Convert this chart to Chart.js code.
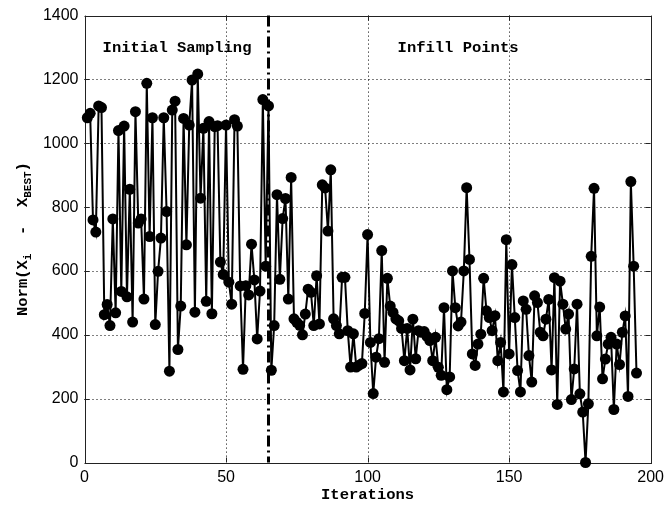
<!DOCTYPE html>
<html>
<head>
<meta charset="utf-8">
<script src="https://cdn.jsdelivr.net/npm/chart.js@4/dist/chart.umd.min.js"></script>
<style>
  body { margin: 0; background: #fff; }
  canvas { display: block; }
</style>
</head>
<body>
<canvas id="myChart" width="669" height="508"></canvas>
<script>
// iteration numbers (x) and the norm values
const iterations = [
  1, 2, 3, 4, 5, 6, 7, 8, 9, 10, 11, 12, 13, 14, 15, 16, 17, 18, 19, 20,
  21, 22, 23, 24, 25, 26, 27, 28, 29, 30, 31, 32, 33, 34, 35, 36, 37, 38, 39, 40,
  41, 42, 43, 44, 45, 46, 47, 48, 49, 50, 51, 52, 53, 54, 55, 56, 57, 58, 59, 60,
  61, 62, 63, 64, 65, 66, 67, 68, 69, 70, 71, 72, 73, 74, 75, 76, 77, 78, 79, 80,
  81, 82, 83, 84, 85, 86, 87, 88, 89, 90, 91, 92, 93, 94, 95, 96, 97, 98, 99, 100,
  101, 102, 103, 104, 105, 106, 107, 108, 109, 110, 111, 112, 113, 114, 115, 116, 117, 118, 119, 120,
  121, 122, 123, 124, 125, 126, 127, 128, 129, 130, 131, 132, 133, 134, 135, 136, 137, 138, 139, 140,
  141, 142, 143, 144, 145, 146, 147, 148, 149, 150, 151, 152, 153, 154, 155, 156, 157, 158, 159, 160,
  161, 162, 163, 164, 165, 166, 167, 168, 169, 170, 171, 172, 173, 174, 175, 176, 177, 178, 179, 180,
  181, 182, 183, 184, 185, 186, 187, 188, 189, 190, 191, 192, 193, 194, 195
];

const normValues = [
  // initial sampling (1-65)
  1080, 1094, 760, 722, 1117, 1112, 463, 495, 429, 763,
  469, 1040, 536, 1054, 519, 856, 440, 1099, 750, 763,
  512, 1188, 708, 1080, 432, 599, 703, 1080, 786, 286,
  1104, 1132, 354, 490, 1078, 682, 1057, 1198, 471, 1217,
  828, 1047, 505, 1068, 466, 1052, 1055, 628, 589, 1057,
  565, 496, 1074, 1054, 553, 292, 554, 525, 684, 572,
  387, 537, 1137, 615, 1117,
  // infill points (66-195)
  289, 429, 839, 574, 764, 827, 512, 893, 450, 439,
  430, 400, 465, 543, 533, 429, 585, 434, 870, 860,
  725, 917, 450, 429, 403, 580, 580, 413, 299, 403,
  299, 305, 310, 467,
  714, 376, 216, 330, 388, 664, 314, 577, 490, 470,
  450, 444, 420, 319, 420, 290, 449, 325, 413, 408,
  410, 395, 382, 319, 392, 298, 273, 485, 228, 268,
  600, 485, 428, 440, 600, 861,
  636, 340, 304, 371, 402, 577, 475, 454, 413, 460,
  319, 376, 221, 698, 340, 620, 454, 288, 221, 506,
  480, 335, 252, 522, 501, 408, 397, 449,
  511, 290, 579, 182, 568, 496, 418, 465, 197, 293,
  496, 215, 158, 0, 184, 646, 859, 397, 487, 262,
  324, 371, 392, 166, 371, 307, 408, 459, 207, 880,
  615, 280
];

const xTicks = [0, 50, 100, 150, 200];
const yTicks = [0, 200, 400, 600, 800, 1000, 1200, 1400];

// end of the initial sampling phase
const splitIteration = 65;
const sectionLabels = ['Initial Sampling', 'Infill Points'];
const sectionLabelX = [6.4, 110.6];
const sectionLabelY = 1297;

const monoBold = 'bold 15.5px "Liberation Mono", "DejaVu Sans Mono", monospace';

const frame = {
  id: 'frame',
  beforeDatasetsDraw(chart) {
    const { ctx, chartArea: a, scales: { x, y } } = chart;
    ctx.save();
    ctx.strokeStyle = '#000';
    ctx.lineWidth = 1;
    ctx.setLineDash([1, 3]);
    ctx.beginPath();
    xTicks.forEach(v => {
      if (v <= 0 || v >= 200) return;
      const px = Math.round(x.getPixelForValue(v)) + 0.5;
      ctx.moveTo(px, a.top);
      ctx.lineTo(px, a.bottom);
    });
    yTicks.forEach(v => {
      if (v <= 0 || v >= 1400) return;
      const py = Math.round(y.getPixelForValue(v)) + 0.5;
      ctx.moveTo(a.left, py);
      ctx.lineTo(a.right, py);
    });
    ctx.stroke();

    // inward tick marks, matlab style
    ctx.setLineDash([]);
    ctx.strokeStyle = '#222';
    ctx.beginPath();
    xTicks.forEach(v => {
      const px = Math.round(x.getPixelForValue(v)) + 0.5;
      ctx.moveTo(px, a.bottom); ctx.lineTo(px, a.bottom - 5);
      ctx.moveTo(px, a.top); ctx.lineTo(px, a.top + 5);
    });
    yTicks.forEach(v => {
      const py = Math.round(y.getPixelForValue(v)) + 0.5;
      ctx.moveTo(a.left, py); ctx.lineTo(a.left + 5, py);
      ctx.moveTo(a.right, py); ctx.lineTo(a.right - 5, py);
    });
    ctx.stroke();
    ctx.strokeRect(Math.round(a.left) + 0.5, Math.round(a.top) + 0.5,
      Math.round(a.width), Math.round(a.height));
    ctx.restore();
  },
  afterDatasetsDraw(chart) {
    const { ctx, chartArea: a, scales: { x, y } } = chart;
    ctx.save();
    // dash-dot separator
    const sx = x.getPixelForValue(splitIteration);
    ctx.strokeStyle = '#000';
    ctx.lineWidth = 3;
    ctx.setLineDash([11, 4, 2, 4]);
    ctx.beginPath();
    ctx.moveTo(sx, a.top);
    ctx.lineTo(sx, a.bottom);
    ctx.stroke();
    ctx.setLineDash([]);

    ctx.fillStyle = '#000';
    ctx.font = monoBold;
    ctx.textAlign = 'left';
    ctx.textBaseline = 'middle';
    sectionLabels.forEach((t, k) => {
      ctx.fillText(t, x.getPixelForValue(sectionLabelX[k]), y.getPixelForValue(sectionLabelY));
    });

    // x title
    ctx.textAlign = 'center';
    ctx.fillText('Iterations', (a.left + a.right) / 2, 495);

    // y title with subscripts
    const parts = [
      ['Norm(X', false], ['i', true], ['  -  X', false], ['BEST', true], [')', false]
    ];
    const subFont = 'bold 11px "Liberation Mono", "DejaVu Sans Mono", monospace';
    let total = 0;
    parts.forEach(p => {
      ctx.font = p[1] ? subFont : monoBold;
      total += ctx.measureText(p[0]).width;
    });
    ctx.translate(22, (a.top + a.bottom) / 2);
    ctx.rotate(-Math.PI / 2);
    ctx.textAlign = 'left';
    ctx.textBaseline = 'alphabetic';
    let cx = -total / 2;
    parts.forEach(p => {
      ctx.font = p[1] ? subFont : monoBold;
      ctx.fillText(p[0], cx, p[1] ? 9 : 5);
      cx += ctx.measureText(p[0]).width;
    });
    ctx.restore();
  }
};

const ctx = document.getElementById('myChart').getContext('2d');

const myChart = new Chart(ctx, {
  type: 'line',
  data: {
    labels: iterations,
    datasets: [{
      data: normValues,
      borderColor: '#000',
      backgroundColor: '#000',
      borderWidth: 2,
      pointRadius: 5.5,
      pointBorderWidth: 0,
      pointBackgroundColor: '#000',
      tension: 0,
      clip: false
    }]
  },
  options: {
    responsive: false,
    animation: false,
    layout: { padding: { top: 13, right: 13.5, left: 0, bottom: 0 } },
    scales: {
      x: {
        type: 'linear',
        min: 0,
        max: 200,
        afterBuildTicks: s => { s.ticks = xTicks.map(v => ({ value: v })); },
        afterFit: s => { s.height = 45.5; },
        ticks: {
          color: '#000',
          padding: 5,
          maxRotation: 0,
          font: { family: '"Liberation Sans", Arial, sans-serif', size: 16 },
          callback: v => String(v)
        },
        grid: { display: false, drawTicks: false },
        border: { display: false }
      },
      y: {
        min: 0,
        max: 1400,
        afterBuildTicks: s => { s.ticks = yTicks.map(v => ({ value: v })); },
        afterFit: s => { s.width = 84.5; },
        ticks: {
          color: '#000',
          padding: 6,
          font: { family: '"Liberation Sans", Arial, sans-serif', size: 16 },
          callback: v => String(v)
        },
        grid: { display: false, drawTicks: false },
        border: { display: false }
      }
    },
    plugins: {
      legend: { display: false },
      tooltip: { enabled: false }
    }
  },
  plugins: [frame]
});
</script>
</body>
</html>
